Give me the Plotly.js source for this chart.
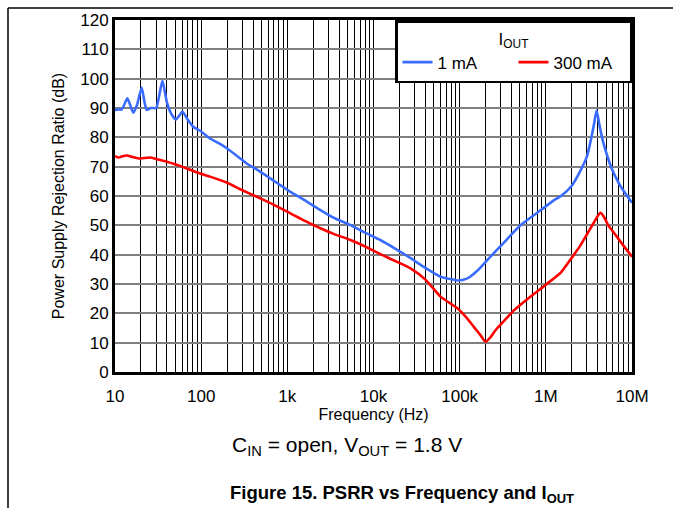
<!DOCTYPE html>
<html>
<head>
<meta charset="utf-8">
<script src="https://cdn.plot.ly/plotly-3.0.1.min.js"></script>
<style>html,body{margin:0;padding:0;background:#fff;}#chart{width:673px;height:508px;}</style>
</head>
<body>
<div id="chart"></div>
<script>
// 1 mA series
const freq1mA = [10, 11, 12, 13.9, 15, 16.3, 18, 20.4, 22, 23.4, 26, 30, 32, 35.5, 40, 45, 51, 56, 60.6, 70, 81, 100, 127, 160, 200, 284, 340, 450, 634, 800, 1085, 1500, 2420, 3500, 5400, 8000, 12000, 18000, 27000, 40000, 60000, 75000, 94000, 123000, 160000, 210000, 300000, 512000, 875000, 1250000, 1500000, 2000000, 2550000, 3000000, 3330000, 3600000, 3880000, 4200000, 4560000, 5000000, 5700000, 7000000, 8300000, 10000000];
const psrr1mA = [89.3, 89.5, 89.5, 93.3, 91, 88.4, 91, 97.0, 92, 89.3, 90, 90, 93, 99.3, 92, 88, 86.1, 87.5, 88.8, 86, 83.6, 82, 79.6, 78, 76.2, 72.8, 71, 68.9, 66, 64, 61.4, 59, 55.2, 52.5, 50.1, 47.5, 45, 42, 38.8, 35.5, 32.5, 31.8, 31.2, 31.9, 34.5, 38.2, 43, 50.1, 55.2, 58.6, 60, 63.5, 68.9, 73.5, 79.1, 84, 89.1, 84, 79.1, 75, 70, 64.5, 61, 57.7];
// 300 mA series
const freq300mA = [10, 11, 12, 13.7, 16, 19.5, 25.5, 30, 40, 50, 68, 90, 127, 200, 284, 486, 700, 1085, 1600, 2420, 3500, 5410, 8000, 12000, 18000, 26900, 40000, 60000, 94000, 120000, 146000, 175000, 200000, 230000, 262000, 330000, 429000, 650000, 1045000, 1500000, 2040000, 2500000, 3050000, 3700000, 4300000, 4700000, 5300000, 6230000, 8000000, 10000000];
const psrr300mA = [73.6, 73.1, 73.5, 73.8, 73.3, 72.8, 73.1, 72.6, 71.7, 70.8, 69.4, 68, 66.6, 64.5, 62.3, 59.2, 57, 54.1, 51.5, 49.0, 47, 45.0, 42.8, 40.2, 37.8, 35.3, 31.5, 25.7, 21.7, 18.5, 15.4, 12.5, 10.3, 12, 14.3, 17.5, 21.1, 25.5, 30.2, 34, 39.3, 43, 47.3, 51.5, 54.3, 53, 50, 47.3, 43, 39.3];
// ticks
const xTickVals = [10, 100, 1000, 10000, 100000, 1000000, 10000000];
const xTickText = ["10", "100", "1k", "10k", "100k", "1M", "10M"];
const yTickVals = [0, 10, 20, 30, 40, 50, 60, 70, 80, 90, 100, 110, 120];

const FONT = "Liberation Sans, Arial, Helvetica, sans-serif";

const traces = [
  {x: freq1mA, y: psrr1mA, type: "scatter", mode: "lines", name: "1 mA",
   line: {color: "#3a6cff", width: 2.6, shape: "spline", smoothing: 0.6}},
  {x: freq300mA, y: psrr300mA, type: "scatter", mode: "lines", name: "300 mA",
   line: {color: "#ff0000", width: 2.6, shape: "spline", smoothing: 0.6}}
];

const W = 673, H = 508, L = 115, R = 41, T = 20, B = 136;
const pw = W - L - R, ph = H - T - B;
const px = v => (v - L) / pw;
const py = v => (H - B - v) / ph;

const layout = {
  width: W, height: H,
  margin: {l: L, r: R, t: T, b: B},
  paper_bgcolor: "#fff", plot_bgcolor: "#fff",
  font: {family: FONT, color: "#000", size: 16},
  showlegend: true,
  xaxis: {
    type: "log", range: [1, 7],
    tickmode: "array", tickvals: xTickVals, ticktext: xTickText,
    tickfont: {size: 17}, ticks: "outside", ticklen: 7, tickcolor: "rgba(0,0,0,0)",
    showgrid: true, gridcolor: "#000", gridwidth: 1.2,
    minor: {dtick: "D1", showgrid: true, gridcolor: "#000", gridwidth: 1, ticks: ""},
    showline: true, linecolor: "#000", linewidth: 3, mirror: true,
    zeroline: false,
    title: {text: "Frequency (Hz)", font: {size: 16}, standoff: 3}
  },
  yaxis: {
    range: [0, 120], tickmode: "array", tickvals: yTickVals,
    tickfont: {size: 17}, ticks: "",
    showgrid: true, gridcolor: "#808080", gridwidth: 2,
    showline: true, linecolor: "#000", linewidth: 3, mirror: true,
    zeroline: false,
    title: {text: "Power Supply Rejection Ratio (dB)", font: {size: 16}, standoff: 12}
  },
  legend: {
    x: 1, xanchor: "right", y: 1, yanchor: "top",
    orientation: "h",
    entrywidth: 71, entrywidthmode: "pixels",
    bgcolor: "#fff", bordercolor: "#000", borderwidth: 2.5,
    font: {size: 17},
    title: {text: "I<sub>OUT</sub>", side: "top center", font: {size: 17}}
  },
  shapes: [
    {type: "line", xref: "paper", yref: "paper", x0: px(8), x1: px(673), y0: py(8), y1: py(8), line: {color: "#000", width: 1.5}},
    {type: "line", xref: "paper", yref: "paper", x0: px(8), x1: px(8), y0: py(8), y1: py(508), line: {color: "#000", width: 1.5}}
  ],
  annotations: [
    {xref: "paper", yref: "paper", x: px(347), y: py(446), xanchor: "center", yanchor: "middle", showarrow: false,
     text: "C<sub>IN</sub> = open, V<sub>OUT</sub> = 1.8 V", font: {size: 21}},
    {xref: "paper", yref: "paper", x: px(402), y: py(494), xanchor: "center", yanchor: "middle", showarrow: false,
     text: "<b>Figure 15. PSRR vs Frequency and I<sub>OUT</sub></b>", font: {size: 18.5}}
  ]
};

Plotly.newPlot("chart", traces, layout, {displayModeBar: false, staticPlot: true});
</script>
</body>
</html>
